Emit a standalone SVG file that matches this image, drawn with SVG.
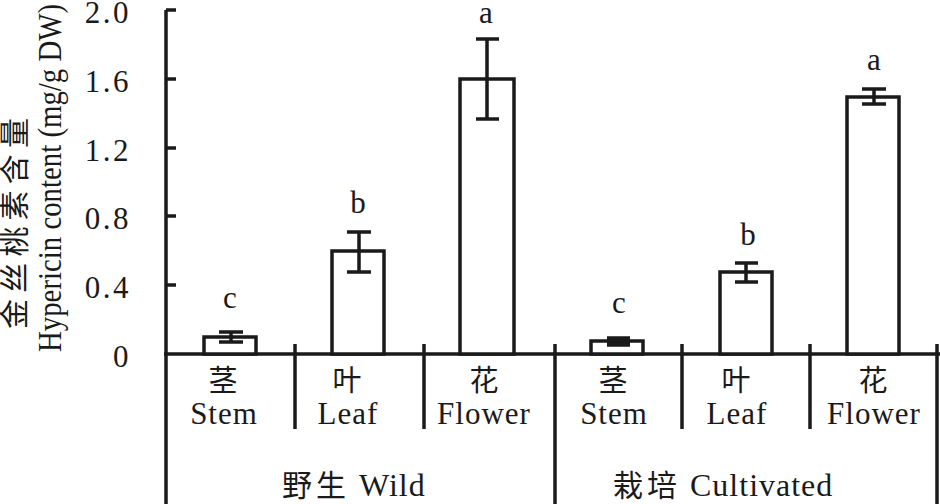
<svg xmlns="http://www.w3.org/2000/svg" width="940" height="504" viewBox="0 0 940 504">
<style>
.ax{stroke:#1a1a1a;stroke-width:3.5;fill:none;stroke-linecap:butt}
.bar{stroke:#1a1a1a;stroke-width:3.5;fill:#fff}
.err{stroke:#1a1a1a;stroke-width:3.5;fill:none}
.t{font-family:"Liberation Serif","Times New Roman",serif;fill:#1a1a1a}
.cjk{font-family:"Liberation Serif","Noto Sans CJK SC",serif;fill:#1a1a1a}
.tick{font-size:31px;letter-spacing:2.5px;text-anchor:end}
.cat{font-size:31px;letter-spacing:1px;text-anchor:middle}
.ch{font-size:29px;text-anchor:middle}
.sig{font-size:31px;text-anchor:middle}
</style>
<rect width="940" height="504" fill="#fff"/>
<g id="axes">
<line class="ax" x1="166" y1="10" x2="166" y2="504"/>
<line class="ax" x1="164" y1="354" x2="940" y2="354"/>
<line class="ax" x1="166" y1="10" x2="176" y2="10"/>
<line class="ax" x1="166" y1="79" x2="176" y2="79"/>
<line class="ax" x1="166" y1="148" x2="176" y2="148"/>
<line class="ax" x1="166" y1="216" x2="176" y2="216"/>
<line class="ax" x1="166" y1="285" x2="176" y2="285"/>
<line class="ax" x1="295" y1="344" x2="295" y2="429"/>
<line class="ax" x1="424" y1="344" x2="424" y2="429"/>
<line class="ax" x1="555" y1="344" x2="555" y2="504"/>
<line class="ax" x1="682" y1="344" x2="682" y2="429"/>
<line class="ax" x1="810" y1="344" x2="810" y2="429"/>
<line class="ax" x1="937" y1="344" x2="937" y2="504"/>
</g>
<g id="yticks" class="t tick">
<text x="131" y="23">2.0</text>
<text x="131" y="92">1.6</text>
<text x="131" y="161">1.2</text>
<text x="131" y="229">0.8</text>
<text x="131" y="298">0.4</text>
<text x="131" y="367">0</text>
</g>
<g id="ylabel">
<text class="cjk" font-size="30" transform="translate(25,329) rotate(-90)" textLength="211" lengthAdjust="spacing">金丝桃素含量</text>
<text class="t" font-size="34" transform="translate(61,352) rotate(-90)" textLength="348" lengthAdjust="spacingAndGlyphs">Hypericin content (mg/g DW)</text>
</g>
<g id="wild-stem">
<rect class="bar" x="204" y="337" width="52" height="17"/>
<path class="err" d="M219 332H243M231 332V342M219 342H243"/>
<text class="t sig" x="230" y="308">c</text>
</g>
<g id="wild-leaf">
<rect class="bar" x="332" y="251" width="52" height="103"/>
<path class="err" d="M347 232H371M359 232V272M347 272H371"/>
<text class="t sig" x="358" y="213">b</text>
</g>
<g id="wild-flower">
<rect class="bar" x="460" y="79" width="54" height="275"/>
<path class="err" d="M476 39H499M487 39V119M476 119H499"/>
<text class="t sig" x="486" y="23">a</text>
</g>
<g id="cult-stem">
<rect class="bar" x="591" y="341" width="52" height="13"/>
<path class="err" d="M607 338H630M618 338V345M607 345H630"/>
<rect x="607" y="337" width="23" height="9" fill="#1a1a1a"/>
<text class="t sig" x="619" y="313">c</text>
</g>
<g id="cult-leaf">
<rect class="bar" x="720" y="272" width="52" height="82"/>
<path class="err" d="M735 263H758M746 263V282M735 282H758"/>
<text class="t sig" x="748" y="245">b</text>
</g>
<g id="cult-flower">
<rect class="bar" x="847" y="97" width="52" height="257"/>
<path class="err" d="M862 89H886M874 89V104M862 104H886"/>
<text class="t sig" x="874" y="70">a</text>
</g>
<g id="categories">
<text class="cjk ch" x="223" y="391">茎</text>
<text class="t cat" x="224" y="424">Stem</text>
<text class="cjk ch" x="347" y="391">叶</text>
<text class="t cat" x="348" y="424">Leaf</text>
<text class="cjk ch" x="484" y="391">花</text>
<text class="t cat" x="484" y="424">Flower</text>
<text class="cjk ch" x="613" y="391">茎</text>
<text class="t cat" x="614" y="424">Stem</text>
<text class="cjk ch" x="736" y="391">叶</text>
<text class="t cat" x="737" y="424">Leaf</text>
<text class="cjk ch" x="873" y="391">花</text>
<text class="t cat" x="874" y="424">Flower</text>
</g>
<g id="groups">
<text class="cjk" font-size="30" x="282" y="496"><tspan letter-spacing="4">野生</tspan><tspan class="t" font-size="32" letter-spacing="1"> Wild</tspan></text>
<text class="cjk" font-size="30" x="613" y="496"><tspan letter-spacing="4">栽培</tspan><tspan class="t" font-size="32" letter-spacing="1"> Cultivated</tspan></text>
</g>
</svg>
